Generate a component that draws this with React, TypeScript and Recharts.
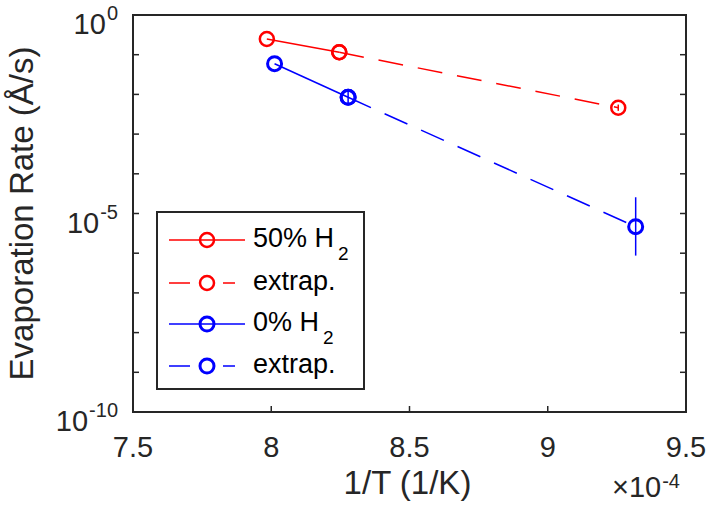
import { ComposedChart, ErrorBar, Legend, Line, XAxis, YAxis } from "recharts";

// 1/T in units of 1e-4 1/K, rate in Å/s
const h50X = [7.984, 8.246];
const h50Y = [0.248, 0.115];
const h50ExtX = [8.246, 9.255];
const h50ExtY = [0.115, 0.00462];
const h50ExtErr: [number, number][] = [[0, 0], [0.00077, 0.00093]];

const h0X = [8.012, 8.278];
const h0Y = [0.0593, 0.00845];
const h0Err: [number, number][] = [[0, 0], [0.0027, 0.004]];
const h0ExtX = [8.278, 9.318];
const h0ExtY = [0.00845, 4.65e-6];
const h0ExtErr: [number, number][] = [[0, 0], [3.78e-6, 2.1e-5]];

const xTicks = [7.5, 8, 8.5, 9, 9.5];
const yTicks = [1e-10, 1e-9, 1e-8, 1e-7, 1e-6, 1e-5, 1e-4, 1e-3, 1e-2, 1e-1, 1];
const yLabelledExp = [0, -5, -10];

const legendNames = ["50% H", "extrap.", "0% H", "extrap."];
const legendSub = ["2", "", "2", ""];
const legendColors = ["#ff0000", "#ff0000", "#0000ff", "#0000ff"];
const legendDashed = [false, true, false, true];

const RED = "#ff0000";
const BLUE = "#0000ff";
const AXIS = "#262626";
const FONT = "'Liberation Sans', Arial, Helvetica, sans-serif";

const zip = (xs: number[], ys: number[], errs?: [number, number][]) =>
  xs.map((x, i) => ({ x, y: ys[i], err: errs ? errs[i] : [0, 0] }));

const ring = (color: string, w: number) => (p: any) => (
  <circle
    key={`d${p.index}`}
    cx={p.cx}
    cy={p.cy}
    r={7}
    fill="none"
    stroke={color}
    strokeWidth={w}
  />
);

const XTickBottom = ({ x, y, payload }: any) => (
  <g>
    <line x1={x} y1={y} x2={x} y2={y - 6} stroke={AXIS} strokeWidth={1.5} />
    <text x={x} y={y + 45} textAnchor="middle" fontSize={29} fill={AXIS} fontFamily={FONT}>
      {payload.value}
    </text>
  </g>
);

const XTickTop = ({ x, y }: any) => (
  <line x1={x} y1={y} x2={x} y2={y + 6} stroke={AXIS} strokeWidth={1.5} />
);

const YTickLeft = ({ x, y, payload }: any) => {
  const exp = Math.round(Math.log10(payload.value));
  return (
    <g>
      <line x1={x} y1={y} x2={x + 6} y2={y} stroke={AXIS} strokeWidth={1.5} />
      {yLabelledExp.includes(exp) && (
        <text x={x - 15} y={y + 19} textAnchor="end" fontSize={29} fill={AXIS} fontFamily={FONT}>
          10
          <tspan dy={-14} dx={1} fontSize={20}>
            {exp === 0 ? "0" : `-${-exp}`}
          </tspan>
        </text>
      )}
    </g>
  );
};

const YTickRight = ({ x, y }: any) => (
  <line x1={x} y1={y} x2={x - 6} y2={y} stroke={AXIS} strokeWidth={1.5} />
);

const LegendBox = () => (
  <svg width={209} height={179} style={{ display: "block" }}>
    <rect x={1} y={1} width={207} height={177} fill="#fff" stroke={AXIS} strokeWidth={2} />
    {legendNames.map((name, i) => {
      const cy = [29, 72, 113, 155][i];
      return (
        <g key={i}>
          <line
            x1={13}
            y1={cy}
            x2={legendDashed[i] ? 79 : 89}
            y2={cy}
            stroke={legendColors[i]}
            strokeWidth={1.5}
            strokeDasharray={legendDashed[i] ? "21 33" : undefined}
          />
          <circle cx={51} cy={cy} r={7} fill="none" stroke={legendColors[i]} strokeWidth={i < 2 ? 2.5 : 3} />
          <text x={97} y={cy + 7} fontSize={27} fill="#000" fontFamily={FONT}>
            {name}
            {legendSub[i] && (
              <tspan dx={4} dy={13} fontSize={19}>
                {legendSub[i]}
              </tspan>
            )}
          </text>
        </g>
      );
    })}
  </svg>
);

export default function App() {
  return (
    <div style={{ position: "absolute", left: 0, top: 0, background: "#fff" }}>
      <ComposedChart width={706} height={509} margin={{ top: 14, right: 19, bottom: 57, left: 60 }}>
        <XAxis
          dataKey="x"
          type="number"
          domain={[7.5, 9.5]}
          ticks={xTicks}
          interval={0}
          height={40}
          tickSize={0}
          tickMargin={0}
          tickLine={false}
          tick={<XTickBottom />}
          axisLine={{ stroke: AXIS, strokeWidth: 2, strokeLinecap: "square" }}
          allowDataOverflow
          label={(props: any) => {
            const vb = props.viewBox;
            return (
              <g fontFamily={FONT} fill={AXIS}>
                <text x={vb.x + vb.width / 2 - 2} y={vb.y + 82} textAnchor="middle" fontSize={33}>
                  1/T (1/K)
                </text>
                <text x={vb.x + vb.width - 6} y={vb.y + 85} textAnchor="end" fontSize={29}>
                  ×10
                  <tspan dy={-9} dx={1} fontSize={20}>
                    -4
                  </tspan>
                </text>
              </g>
            );
          }}
        />
        <XAxis
          xAxisId="top"
          orientation="top"
          type="number"
          domain={[7.5, 9.5]}
          ticks={xTicks}
          interval={0}
          height={1}
          tickSize={0}
          tickMargin={0}
          tickLine={false}
          tick={<XTickTop />}
          axisLine={{ stroke: AXIS, strokeWidth: 2, strokeLinecap: "square" }}
          allowDataOverflow
        />
        <YAxis
          type="number"
          scale="log"
          domain={[1e-10, 1]}
          ticks={yTicks}
          interval={0}
          width={73}
          tickSize={0}
          tickMargin={0}
          tickLine={false}
          tick={<YTickLeft />}
          axisLine={{ stroke: AXIS, strokeWidth: 2, strokeLinecap: "square" }}
          allowDataOverflow
          label={(props: any) => {
            const vb = props.viewBox;
            const cx = vb.x - 27;
            const cy = vb.y + vb.height / 2;
            return (
              <text
                x={cx}
                y={cy}
                transform={`rotate(-90, ${cx}, ${cy})`}
                textAnchor="middle"
                fontSize={33}
                fill={AXIS}
                fontFamily={FONT}
              >
                Evaporation Rate (Å/s)
              </text>
            );
          }}
        />
        <YAxis
          yAxisId="right"
          orientation="right"
          type="number"
          scale="log"
          domain={[1e-10, 1]}
          ticks={yTicks}
          interval={0}
          width={1}
          tickSize={0}
          tickMargin={0}
          tickLine={false}
          tick={<YTickRight />}
          axisLine={{ stroke: AXIS, strokeWidth: 2, strokeLinecap: "square" }}
          allowDataOverflow
        />
        <Legend
          layout="horizontal"
          verticalAlign="middle"
          align="center"
          content={() => <LegendBox />}
          wrapperStyle={{ left: 156, top: 211, width: 209, height: 179 }}
        />
        <Line
          data={zip(h50ExtX, h50ExtY, h50ExtErr)}
          dataKey="y"
          name="extrap."
          stroke={RED}
          strokeWidth={1.5}
          strokeDasharray="25 15"
          dot={ring(RED, 2.5)}
          activeDot={false}
          isAnimationActive={false}
        >
          <ErrorBar dataKey="err" direction="y" width={0} stroke={RED} strokeWidth={1.5} />
        </Line>
        <Line
          data={zip(h50X, h50Y)}
          dataKey="y"
          name="50% H2"
          stroke={RED}
          strokeWidth={1.5}
          dot={ring(RED, 2.5)}
          activeDot={false}
          isAnimationActive={false}
        />
        <Line
          data={zip(h0ExtX, h0ExtY, h0ExtErr)}
          dataKey="y"
          name="extrap."
          stroke={BLUE}
          strokeWidth={1.5}
          strokeDasharray="25 15"
          dot={ring(BLUE, 3)}
          activeDot={false}
          isAnimationActive={false}
        >
          <ErrorBar dataKey="err" direction="y" width={0} stroke={BLUE} strokeWidth={1.5} />
        </Line>
        <Line
          data={zip(h0X, h0Y, h0Err)}
          dataKey="y"
          name="0% H2"
          stroke={BLUE}
          strokeWidth={1.5}
          dot={ring(BLUE, 3)}
          activeDot={false}
          isAnimationActive={false}
        >
          <ErrorBar dataKey="err" direction="y" width={0} stroke={BLUE} strokeWidth={1.5} />
        </Line>
      </ComposedChart>
    </div>
  );
}
